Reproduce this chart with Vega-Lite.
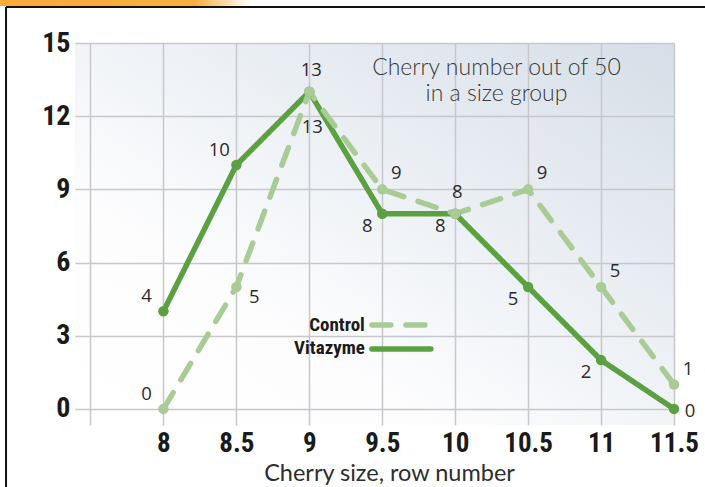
{
  "$schema": "https://vega.github.io/schema/vega-lite/v6.json",
  "width": 599,
  "height": 382,
  "autosize": "none",
  "padding": {"left": 75, "top": 43, "right": 31, "bottom": 62},
  "background": "#ffffff",
  "config": {
    "view": {
      "stroke": null,
      "fill": {"gradient": "linear", "x1": 0, "y1": 1, "x2": 1, "y2": 0, "stops": [{"offset": 0, "color": "#ffffff"}, {"offset": 0.3, "color": "#fdfdfe"}, {"offset": 1, "color": "#d5dee7"}]}
    }
  },
  "datasets": {
    "one": [{"k": 1}],
    "cherries": [
      {"size": 8, "count": 4, "series": "Vitazyme"},
      {"size": 8.5, "count": 10, "series": "Vitazyme"},
      {"size": 9, "count": 13, "series": "Vitazyme"},
      {"size": 9.5, "count": 8, "series": "Vitazyme"},
      {"size": 10, "count": 8, "series": "Vitazyme"},
      {"size": 10.5, "count": 5, "series": "Vitazyme"},
      {"size": 11, "count": 2, "series": "Vitazyme"},
      {"size": 11.5, "count": 0, "series": "Vitazyme"},
      {"size": 8, "count": 0, "series": "Control"},
      {"size": 8.5, "count": 5, "series": "Control"},
      {"size": 9, "count": 13, "series": "Control"},
      {"size": 9.5, "count": 9, "series": "Control"},
      {"size": 10, "count": 8, "series": "Control"},
      {"size": 10.5, "count": 9, "series": "Control"},
      {"size": 11, "count": 5, "series": "Control"},
      {"size": 11.5, "count": 1, "series": "Control"}
    ]
  },
  "layer": [
    {
      "data": {"name": "one"},
      "mark": {"type": "rect", "fill": {"gradient": "linear", "x1": 0, "y1": 0, "x2": 1, "y2": 0, "stops": [{"offset": 0, "color": "#f9ab38"}, {"offset": 0.78, "color": "#f9ae40"}, {"offset": 1, "color": "#ffffff"}]}},
      "encoding": {
        "x": {"datum": 6.88, "type": "quantitative", "scale": {"domain": [7.3938, 11.5], "nice": false, "zero": false}},
        "x2": {"datum": 8.593},
        "y": {"datum": 16.77, "type": "quantitative", "scale": {"domain": [-0.66, 15], "nice": false, "zero": false}},
        "y2": {"datum": 16.52}
      }
    },
    {
      "data": {"name": "one"},
      "mark": {"type": "rule", "color": "#111111", "strokeWidth": 2},
      "encoding": {
        "x": {"datum": 6.921, "type": "quantitative", "scale": {"domain": [7.3938, 11.5], "nice": false, "zero": false}},
        "x2": {"datum": 11.72},
        "y": {"datum": 16.476, "type": "quantitative", "scale": {"domain": [-0.66, 15], "nice": false, "zero": false}}
      }
    },
    {
      "data": {"name": "one"},
      "mark": {"type": "rule", "color": "#111111", "strokeWidth": 2},
      "encoding": {
        "x": {"datum": 6.921, "type": "quantitative", "scale": {"domain": [7.3938, 11.5], "nice": false, "zero": false}},
        "y": {"datum": 16.476, "type": "quantitative", "scale": {"domain": [-0.66, 15], "nice": false, "zero": false}},
        "y2": {"datum": -3.3}
      }
    },
    {
      "data": {"name": "cherries"},
      "encoding": {
        "x": {
          "field": "size",
          "type": "quantitative",
          "scale": {"domain": [7.3938, 11.5], "nice": false, "zero": false},
          "axis": {
            "values": [7.5, 8, 8.5, 9, 9.5, 10, 10.5, 11, 11.5],
            "labelExpr": "datum.value == 7.5 ? '' : format(datum.value, '~g')",
            "grid": true,
            "gridColor": "#c8c8cc",
            "gridWidth": 1.5,
            "domain": false,
            "ticks": false,
            "tickSize": 0,
            "labelFont": "Roboto Condensed, Roboto, sans-serif",
            "labelFontSize": 27,
            "labelFontWeight": "bold",
            "labelColor": "#1a1a1a",
            "labelBaseline": "alphabetic",
            "labelPadding": 26,
            "labelFlush": false,
            "labelOverlap": false,
            "title": "Cherry size, row number",
            "titleFont": "Lato",
            "titleFontSize": 23.5,
            "titleFontWeight": "normal",
            "titleColor": "#2e2e2e",
            "titleX": 314,
            "titleY": 55,
            "titleAlign": "center",
            "titleBaseline": "alphabetic"
          }
        },
        "y": {
          "field": "count",
          "type": "quantitative",
          "scale": {"domain": [-0.66, 15], "nice": false, "zero": false},
          "axis": {
            "values": [0, 3, 6, 9, 12, 15],
            "labelExpr": "format(datum.value, 'd')",
            "grid": true,
            "gridColor": "#c8c8cc",
            "gridWidth": 1.5,
            "domain": false,
            "ticks": false,
            "tickSize": 0,
            "labelFont": "Roboto Condensed, Roboto, sans-serif",
            "labelFontSize": 28,
            "labelFontWeight": "bold",
            "labelColor": "#1a1a1a",
            "labelPadding": 5,
            "labelFlush": false,
            "labelOverlap": false,
            "title": null
          }
        }
      },
      "layer": [
        {
          "mark": {"type": "line", "strokeWidth": 5.5, "strokeCap": "round", "strokeJoin": "round"},
          "encoding": {
            "color": {"field": "series", "type": "nominal", "scale": {"domain": ["Control", "Vitazyme"], "range": ["#a9cc96", "#5ba142"]}, "legend": null},
            "strokeDash": {"field": "series", "type": "nominal", "scale": {"domain": ["Control", "Vitazyme"], "range": [[19, 15], [1, 0]]}, "legend": null}
          }
        },
        {
          "mark": {"type": "point", "filled": true, "size": 110, "opacity": 1},
          "encoding": {
            "color": {"field": "series", "type": "nominal", "scale": {"domain": ["Control", "Vitazyme"], "range": ["#a9cc96", "#5ba142"]}, "legend": null}
          }
        },
        {
          "transform": [{"filter": "(datum.series == 'Vitazyme' && datum.size <= 8.5) || (datum.series == 'Control' && datum.size == 8)"}],
          "mark": {"type": "text", "font": "Open Sans", "fontSize": 18.5, "color": "#2b2b2b", "align": "center", "baseline": "middle", "dx": -17, "dy": -15},
          "encoding": {"text": {"field": "count", "type": "quantitative"}}
        },
        {
          "transform": [{"filter": "(datum.series == 'Vitazyme' && datum.size == 9) || (datum.series == 'Control' && datum.size == 10)"}],
          "mark": {"type": "text", "font": "Open Sans", "fontSize": 18.5, "color": "#2b2b2b", "align": "center", "baseline": "middle", "dx": 2, "dy": -22},
          "encoding": {"text": {"field": "count", "type": "quantitative"}}
        },
        {
          "transform": [{"filter": "datum.series == 'Control' && datum.size == 9"}],
          "mark": {"type": "text", "font": "Open Sans", "fontSize": 18.5, "color": "#2b2b2b", "align": "center", "baseline": "middle", "dx": 3, "dy": 35},
          "encoding": {"text": {"field": "count", "type": "quantitative"}}
        },
        {
          "transform": [{"filter": "datum.series == 'Vitazyme' && datum.size >= 9.5 && datum.size <= 11"}],
          "mark": {"type": "text", "font": "Open Sans", "fontSize": 18.5, "color": "#2b2b2b", "align": "center", "baseline": "middle", "dx": -15, "dy": 12},
          "encoding": {"text": {"field": "count", "type": "quantitative"}}
        },
        {
          "transform": [{"filter": "datum.series == 'Control' && (datum.size == 9.5 || datum.size >= 10.5)"}],
          "mark": {"type": "text", "font": "Open Sans", "fontSize": 18.5, "color": "#2b2b2b", "align": "center", "baseline": "middle", "dx": 14, "dy": -16},
          "encoding": {"text": {"field": "count", "type": "quantitative"}}
        },
        {
          "transform": [{"filter": "datum.series == 'Vitazyme' && datum.size == 11.5"}],
          "mark": {"type": "text", "font": "Open Sans", "fontSize": 18.5, "color": "#2b2b2b", "align": "center", "baseline": "middle", "dx": 16, "dy": 2},
          "encoding": {"text": {"field": "count", "type": "quantitative"}}
        },
        {
          "transform": [{"filter": "datum.series == 'Control' && datum.size == 8.5"}],
          "mark": {"type": "text", "font": "Open Sans", "fontSize": 18.5, "color": "#2b2b2b", "align": "center", "baseline": "middle", "dx": 18, "dy": 10},
          "encoding": {"text": {"field": "count", "type": "quantitative"}}
        }
      ]
    },
    {
      "data": {"name": "one"},
      "mark": {"type": "text", "text": "Cherry number out of 50", "font": "Lato", "fontWeight": 300, "fontSize": 23, "color": "#3a3a3a", "align": "center", "baseline": "alphabetic"},
      "encoding": {
        "x": {"datum": 10.283, "type": "quantitative", "scale": {"domain": [7.3938, 11.5], "nice": false, "zero": false}},
        "y": {"datum": 13.688, "type": "quantitative", "scale": {"domain": [-0.66, 15], "nice": false, "zero": false}}
      }
    },
    {
      "data": {"name": "one"},
      "mark": {"type": "text", "text": "in a size group", "font": "Lato", "fontWeight": 300, "fontSize": 23, "color": "#3a3a3a", "align": "center", "baseline": "alphabetic"},
      "encoding": {
        "x": {"datum": 10.283, "type": "quantitative", "scale": {"domain": [7.3938, 11.5], "nice": false, "zero": false}},
        "y": {"datum": 12.62, "type": "quantitative", "scale": {"domain": [-0.66, 15], "nice": false, "zero": false}}
      }
    },
    {
      "data": {"name": "one"},
      "mark": {"type": "rule", "color": "#a9cc96", "strokeWidth": 5.5, "strokeCap": "round", "strokeDash": [19, 15]},
      "encoding": {
        "x": {"datum": 9.429, "type": "quantitative", "scale": {"domain": [7.3938, 11.5], "nice": false, "zero": false}},
        "x2": {"datum": 9.833},
        "y": {"datum": 3.438, "type": "quantitative", "scale": {"domain": [-0.66, 15], "nice": false, "zero": false}}
      }
    },
    {
      "data": {"name": "one"},
      "mark": {"type": "rule", "color": "#5ba142", "strokeWidth": 5.5, "strokeCap": "round"},
      "encoding": {
        "x": {"datum": 9.429, "type": "quantitative", "scale": {"domain": [7.3938, 11.5], "nice": false, "zero": false}},
        "x2": {"datum": 9.833},
        "y": {"datum": 2.454, "type": "quantitative", "scale": {"domain": [-0.66, 15], "nice": false, "zero": false}}
      }
    },
    {
      "data": {"name": "one"},
      "mark": {"type": "text", "text": "Control", "font": "Roboto Condensed, Roboto, sans-serif", "fontWeight": "bold", "fontSize": 19, "color": "#1a1a1a", "align": "right", "baseline": "alphabetic"},
      "encoding": {
        "x": {"datum": 9.381, "type": "quantitative", "scale": {"domain": [7.3938, 11.5], "nice": false, "zero": false}},
        "y": {"datum": 3.192, "type": "quantitative", "scale": {"domain": [-0.66, 15], "nice": false, "zero": false}}
      }
    },
    {
      "data": {"name": "one"},
      "mark": {"type": "text", "text": "Vitazyme", "font": "Roboto Condensed, Roboto, sans-serif", "fontWeight": "bold", "fontSize": 19, "color": "#1a1a1a", "align": "right", "baseline": "alphabetic"},
      "encoding": {
        "x": {"datum": 9.381, "type": "quantitative", "scale": {"domain": [7.3938, 11.5], "nice": false, "zero": false}},
        "y": {"datum": 2.249, "type": "quantitative", "scale": {"domain": [-0.66, 15], "nice": false, "zero": false}}
      }
    }
  ]
}
